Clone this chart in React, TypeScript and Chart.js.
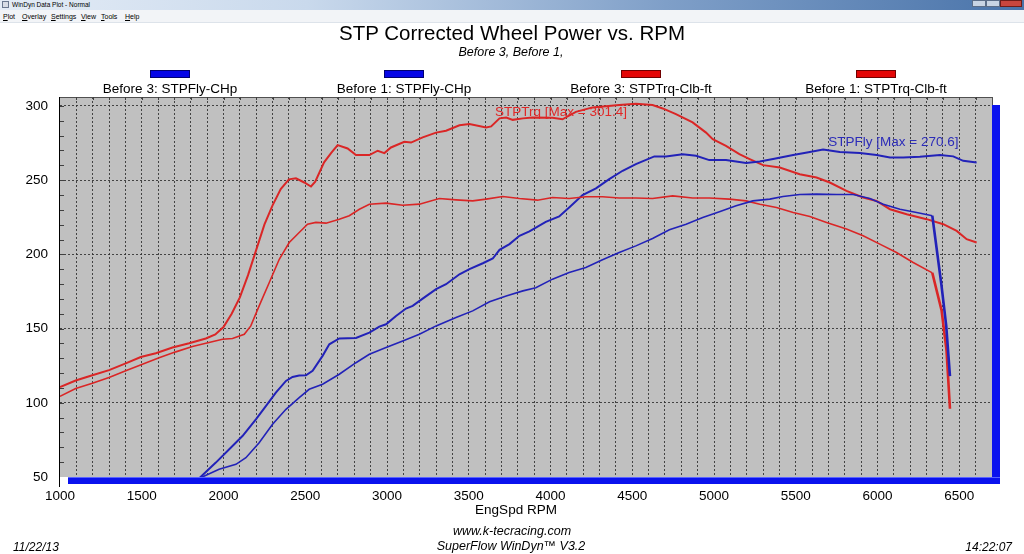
import React, { useEffect, useRef } from 'react';
import { Chart, registerables } from 'chart.js';

Chart.register(...registerables);

const FONT = "'Liberation Sans', Arial, Helvetica, sans-serif";

// ---- Data ----
// Before 3: STPFly-CHp
const b3HpRpm = [1850, 1953, 2035, 2116, 2198, 2259, 2320, 2382, 2422, 2463, 2504, 2545, 2606, 2647, 2708, 2810, 2892, 2953, 2994, 3055, 3116, 3157, 3218, 3300, 3361, 3443, 3504, 3586, 3647, 3688, 3749, 3810, 3871, 3971, 4053, 4114, 4196, 4278, 4359, 4441, 4522, 4635, 4706, 4808, 4890, 4971, 5073, 5196, 5280, 5361, 5484, 5586, 5667, 5769, 5892, 5994, 6076, 6157, 6259, 6382, 6463, 6524, 6606];
const b3Hp = [49, 59.7, 68.7, 77.6, 88.8, 97.8, 106.9, 114.7, 117.4, 118.3, 118.5, 121.5, 131.6, 139.4, 143.3, 143.7, 147.3, 151.3, 152.9, 158.5, 163.5, 165.3, 170.2, 176.5, 179.9, 186.6, 190, 194, 197.2, 203, 206.9, 212.5, 215.5, 221.9, 225.5, 231.6, 239.9, 244.4, 250.7, 256.3, 260.8, 266, 266, 267.5, 266.4, 263.5, 263.5, 261.5, 262.6, 264.2, 266.9, 269, 270.6, 269, 268.2, 266.9, 265.3, 265.3, 265.7, 266.9, 266, 263, 261.9];

// Before 1: STPFly-CHp
const b1HpRpm = [1850, 1973, 2076, 2137, 2218, 2300, 2382, 2463, 2524, 2606, 2708, 2810, 2892, 2994, 3096, 3198, 3300, 3422, 3524, 3627, 3729, 3831, 3910, 4012, 4114, 4216, 4318, 4420, 4522, 4624, 4727, 4829, 4931, 5033, 5135, 5237, 5341, 5422, 5524, 5627, 5749, 5851, 5953, 6035, 6137, 6239, 6335, 6390, 6420, 6443];
const b1Hp = [49, 55.2, 58.5, 63, 73.1, 85.5, 95.6, 103.5, 109.1, 112.5, 119.2, 127, 132.7, 137.2, 141.7, 146.2, 151.8, 157.4, 161.9, 168, 172, 175.4, 177.5, 183.3, 187.8, 191.1, 196.3, 201.2, 205.7, 210.7, 216.5, 220.3, 224.8, 228.7, 232.7, 236, 237.2, 239, 240.3, 240.6, 240.3, 240.3, 237.6, 233.8, 230.4, 228.2, 226, 180, 152, 118];

// Before 3: STPTrq-Clb-ft
const b3TrqRpm = [1000, 1096, 1198, 1300, 1402, 1494, 1586, 1688, 1790, 1892, 1950, 2000, 2050, 2100, 2150, 2200, 2250, 2300, 2350, 2400, 2443, 2494, 2535, 2561, 2615, 2660, 2698, 2759, 2810, 2892, 2943, 2984, 3024, 3106, 3147, 3218, 3300, 3361, 3443, 3504, 3606, 3637, 3688, 3729, 3769, 3831, 3890, 4012, 4073, 4155, 4257, 4420, 4522, 4624, 4686, 4767, 4869, 4951, 4992, 5073, 5155, 5218, 5300, 5402, 5524, 5627, 5708, 5810, 5912, 5994, 6076, 6178, 6300, 6402, 6484, 6545, 6606];
const b3Trq = [110.5, 115, 118.5, 122, 126.5, 130.8, 133.4, 137.2, 140.1, 143.3, 146, 151, 160, 171, 186, 203, 220, 233, 244, 250.5, 251.2, 248.4, 245.7, 249, 262, 268.5, 273.6, 271.3, 266.9, 266.9, 269.8, 268.2, 272, 275.8, 275.3, 278.8, 282, 283.3, 287, 287.8, 285.5, 286.2, 291.6, 292.2, 290.6, 291.6, 292.2, 292, 291, 296, 299, 300.6, 301.4, 300.6, 298.3, 294.5, 288.9, 282, 277.6, 273.1, 267.5, 264.2, 260.1, 258.5, 254, 251.8, 248.4, 242.8, 238.3, 236, 230.4, 227, 223.7, 220.3, 215.8, 210.2, 208];

// Before 1: STPTrq-Clb-ft
const b1TrqRpm = [1000, 1096, 1198, 1300, 1402, 1504, 1606, 1708, 1810, 1892, 1994, 2055, 2127, 2167, 2218, 2280, 2341, 2402, 2463, 2514, 2565, 2627, 2708, 2769, 2831, 2892, 2994, 3096, 3198, 3320, 3422, 3524, 3606, 3708, 3810, 3920, 4012, 4114, 4216, 4318, 4420, 4522, 4624, 4747, 4869, 4971, 5094, 5196, 5280, 5382, 5484, 5586, 5688, 5810, 5912, 6014, 6116, 6218, 6335, 6392, 6422, 6443];
const b1Trq = [104.3, 109.6, 113.1, 117, 121.5, 126, 130.4, 134.3, 137.9, 140.1, 142.8, 143.3, 146.2, 151.8, 165.3, 181, 196.7, 208, 214.7, 220.3, 221.5, 221, 223.7, 226, 230.4, 233.8, 234.5, 233.1, 233.8, 237.6, 236.7, 236, 237.2, 239, 237.6, 236.5, 238.3, 237.6, 238.8, 238.8, 238, 238, 237.6, 239.4, 238, 238, 237.2, 236, 233.8, 231.6, 228.2, 225.5, 221.5, 217, 212.5, 206.9, 201.2, 194.5, 187.5, 162, 135, 96];

// Axis definitions
const X_MIN = 1000;
const X_MAX = 6700;
const X_GRID_STEP = 100;
const X_LABEL_STEP = 500;
const Y_MIN = 50;
const Y_MAX = 306;
const Y_MINOR_STEP = 10;
const Y_LABEL_STEP = 50;
const Y_LABEL_MAX = 300;

const seriesLabels = ['Before 3: STPFly-CHp', 'Before 1: STPFly-CHp', 'Before 3: STPTrq-Clb-ft', 'Before 1: STPTrq-Clb-ft'];
const BLUE_LINE = '#2222b8';
const RED_LINE = '#da2626';

const annotationTexts = ['STPTrq [Max = 301.4]', 'STPFly [Max = 270.6]'];
const annotationX = [3661, 5699];
const annotationY = [296, 275.7];
const annotationColors = ['#e02828', '#2c2cb8'];

const toPoints = (xs: number[], ys: number[]) => xs.map((x, i) => ({ x, y: ys[i] }));

const chromePlugin = {
  id: 'dynoChrome',
  beforeDraw(chart: any) {
    const { ctx, chartArea } = chart;
    const { left, top, right, bottom } = chartArea;
    ctx.save();
    ctx.fillStyle = '#c0c0c0';
    ctx.fillRect(left, top, right - left, bottom - top);
    ctx.restore();
  },
  afterDatasetsDraw(chart: any) {
    const { ctx, chartArea, scales } = chart;
    const { left, top, right, bottom } = chartArea;
    const xs = scales.x;
    const ys = scales.y;
    ctx.save();
    // annotation texts
    ctx.font = `13.5px ${FONT}`;
    ctx.textBaseline = 'middle';
    ctx.textAlign = 'left';
    annotationTexts.forEach((t, i) => {
      ctx.fillStyle = annotationColors[i];
      ctx.fillText(t, xs.getPixelForValue(annotationX[i]), ys.getPixelForValue(annotationY[i]));
    });
    // top border
    ctx.strokeStyle = '#505050';
    ctx.lineWidth = 1;
    ctx.beginPath();
    ctx.moveTo(left, top + 0.5);
    ctx.lineTo(right, top + 0.5);
    ctx.moveTo(right + 0.5, top);
    ctx.lineTo(right + 0.5, top + 9);
    ctx.stroke();
    // top minor ticks
    ctx.strokeStyle = '#404040';
    ctx.beginPath();
    for (let v = X_MIN + X_GRID_STEP; v < X_MAX; v += X_GRID_STEP) {
      const px = Math.round(xs.getPixelForValue(v)) + 0.5;
      ctx.moveTo(px, top);
      ctx.lineTo(px, top + 3);
    }
    ctx.stroke();
    // left minor ticks
    ctx.beginPath();
    for (let v = Y_MIN + Y_MINOR_STEP; v <= Y_LABEL_MAX; v += Y_MINOR_STEP) {
      const py = Math.round(ys.getPixelForValue(v)) + 0.5;
      ctx.moveTo(left, py);
      ctx.lineTo(left + 4, py);
    }
    ctx.stroke();
    // left axis
    ctx.strokeStyle = '#000000';
    ctx.beginPath();
    ctx.moveTo(left - 0.5, top);
    ctx.lineTo(left - 0.5, bottom + 10);
    ctx.stroke();
    // blue shadow bars
    ctx.fillStyle = '#0a12ee';
    ctx.fillRect(right, top + 8, 8, bottom + 7 - (top + 8));
    ctx.fillRect(left + 8, bottom, right + 8 - (left + 8), 7);
    ctx.fillStyle = '#5a64ff';
    ctx.fillRect(left + 8, bottom, right - left, 1);
    ctx.restore();
  },
};

function Txt(props: { x: number; y: number; size: number; italic?: boolean; align?: 'left' | 'center' | 'right'; color?: string; bold?: boolean; children: React.ReactNode }) {
  const { x, y, size, italic, align = 'left', color = '#000', bold, children } = props;
  const style: React.CSSProperties = {
    position: 'absolute',
    top: y - 0.4885 * size,
    fontFamily: FONT,
    fontSize: size,
    lineHeight: 1,
    fontStyle: italic ? 'italic' : 'normal',
    fontWeight: bold ? 'bold' : 'normal',
    color,
    whiteSpace: 'nowrap',
  };
  if (align === 'left') style.left = x;
  else if (align === 'right') style.right = 1024 - x;
  else {
    style.left = x;
    style.transform = 'translateX(-50%)';
  }
  return <div style={style}>{children}</div>;
}

const legendCenters = [170, 404, 641, 876];
const legendFill = ['#0606e6', '#0606e6', '#e40606', '#e40606'];
const legendStroke = ['#000070', '#000070', '#700000', '#700000'];
const menuItems = ['Plot', 'Overlay', 'Settings', 'View', 'Tools', 'Help'];
const menuX = [3, 22, 51, 81, 101, 125];

export default function App() {
  const canvasRef = useRef<HTMLCanvasElement | null>(null);

  useEffect(() => {
    const canvas = canvasRef.current;
    if (!canvas) return;
    const chart = new Chart(canvas, {
      type: 'line',
      data: {
        datasets: [
          {
            label: seriesLabels[1],
            data: toPoints(b1HpRpm, b1Hp),
            borderColor: BLUE_LINE,
            borderWidth: 1.6,
            pointRadius: 0,
            tension: 0,
            fill: false,
            segment: { borderWidth: (c: any) => (c.p0.parsed.x >= 6330 ? 2.6 : 1.6) },
          },
          {
            label: seriesLabels[3],
            data: toPoints(b1TrqRpm, b1Trq),
            borderColor: RED_LINE,
            borderWidth: 1.6,
            pointRadius: 0,
            tension: 0,
            fill: false,
            segment: { borderWidth: (c: any) => (c.p0.parsed.x >= 6330 ? 2.6 : 1.6) },
          },
          {
            label: seriesLabels[0],
            data: toPoints(b3HpRpm, b3Hp),
            borderColor: BLUE_LINE,
            borderWidth: 2,
            pointRadius: 0,
            tension: 0,
            fill: false,
          },
          {
            label: seriesLabels[2],
            data: toPoints(b3TrqRpm, b3Trq),
            borderColor: RED_LINE,
            borderWidth: 2,
            pointRadius: 0,
            tension: 0,
            fill: false,
          },
        ],
      },
      options: {
        animation: false,
        responsive: false,
        devicePixelRatio: 1,
        parsing: true,
        layout: { padding: { left: 10, right: 32, top: 97, bottom: 37 } },
        plugins: {
          legend: { display: false },
          tooltip: { enabled: false },
          title: { display: false },
        },
        scales: {
          x: {
            type: 'linear',
            min: X_MIN,
            max: X_MAX,
            afterFit: (s: any) => {
              s.height = 40;
            },
            border: { display: false, dash: [2, 2] },
            grid: {
              drawTicks: false,
              lineWidth: 1,
              color: (c: any) => {
                const v = c.tick ? c.tick.value : 0;
                return v > X_MIN && v < X_MAX ? 'rgba(45,45,45,0.85)' : 'rgba(0,0,0,0)';
              },
            },
            ticks: {
              stepSize: X_GRID_STEP,
              autoSkip: false,
              includeBounds: false,
              maxRotation: 0,
              minRotation: 0,
              padding: 11,
              color: '#000',
              font: { family: FONT, size: 13.5 },
              callback: (v: any) => (Number(v) % X_LABEL_STEP === 0 ? String(v) : ''),
            },
          },
          y: {
            type: 'linear',
            min: Y_MIN,
            max: Y_MAX,
            afterFit: (s: any) => {
              s.width = 50;
            },
            border: { display: false, dash: [2, 2] },
            grid: {
              drawTicks: false,
              lineWidth: 1,
              color: (c: any) => {
                const v = c.tick ? c.tick.value : 0;
                return v > Y_MIN && v <= Y_LABEL_MAX && v % Y_LABEL_STEP === 0 ? 'rgba(45,45,45,0.85)' : 'rgba(0,0,0,0)';
              },
            },
            ticks: {
              stepSize: Y_MINOR_STEP,
              autoSkip: false,
              includeBounds: false,
              padding: 12,
              color: '#000',
              font: { family: FONT, size: 13.5 },
              callback: (v: any) => (Number(v) % Y_LABEL_STEP === 0 ? String(v) : ''),
            },
          },
        },
      },
      plugins: [chromePlugin],
    } as any);
    return () => chart.destroy();
  }, []);

  return (
    <div style={{ position: 'fixed', left: 0, top: 0, width: 1024, height: 554, background: '#ffffff', overflow: 'hidden' }}>
      {/* window title bar */}
      <div style={{ position: 'absolute', left: 0, top: 0, width: 1024, height: 10, background: 'linear-gradient(to right, #e4ecf6 0%, #c9d9ec 30%, #7f9fc8 65%, #4a74aa 100%)' }} />
      <div style={{ position: 'absolute', left: 2, top: 1, width: 7, height: 7, background: '#d8dde6', border: '1px solid #6a7890', boxSizing: 'border-box' }} />
      <Txt x={12} y={5} size={6.5}>WinDyn Data Plot - Normal</Txt>
      <div style={{ position: 'absolute', left: 972, top: 0, width: 14, height: 7, background: '#c8d4e4', border: '1px solid #5b6d88', boxSizing: 'border-box' }} />
      <div style={{ position: 'absolute', left: 986, top: 0, width: 14, height: 7, background: '#c8d4e4', border: '1px solid #5b6d88', boxSizing: 'border-box' }} />
      <div style={{ position: 'absolute', left: 1000, top: 0, width: 22, height: 7, background: '#c9463d', border: '1px solid #6e1d18', boxSizing: 'border-box' }} />
      {/* menu bar */}
      <div style={{ position: 'absolute', left: 0, top: 10, width: 1024, height: 12, background: '#f2f4f7', borderBottom: '1px solid #dde3ea' }} />
      {menuItems.map((m, i) => (
        <Txt key={m} x={menuX[i]} y={16.5} size={7}>
          <span style={{ textDecoration: 'underline' }}>{m[0]}</span>
          {m.slice(1)}
        </Txt>
      ))}
      <canvas ref={canvasRef} width={1024} height={554} style={{ position: 'absolute', left: 0, top: 0, width: 1024, height: 554 }} />
      {/* titles */}
      <Txt x={512} y={33} size={20.5} align="center">STP Corrected Wheel Power vs. RPM</Txt>
      <Txt x={511} y={52} size={12.5} italic align="center">Before 3, Before 1,</Txt>
      {/* legend */}
      {seriesLabels.map((lab, i) => (
        <React.Fragment key={lab}>
          <div style={{ position: 'absolute', left: legendCenters[i] - 20, top: 70, width: 40, height: 8, background: legendFill[i], border: `1px solid ${legendStroke[i]}`, boxSizing: 'border-box' }} />
          <Txt x={legendCenters[i]} y={89} size={13.5} align="center">{lab}</Txt>
        </React.Fragment>
      ))}
      {/* axis title and footer */}
      <Txt x={516} y={510} size={13.5} align="center">EngSpd RPM</Txt>
      <Txt x={512} y={531.5} size={12.5} italic align="center">www.k-tecracing.com</Txt>
      <Txt x={511} y={546.5} size={12.5} italic align="center">SuperFlow WinDyn™ V3.2</Txt>
      <Txt x={13} y={546.5} size={12} italic>11/22/13</Txt>
      <Txt x={1012} y={546.5} size={12} italic align="right">14:22:07</Txt>
    </div>
  );
}
